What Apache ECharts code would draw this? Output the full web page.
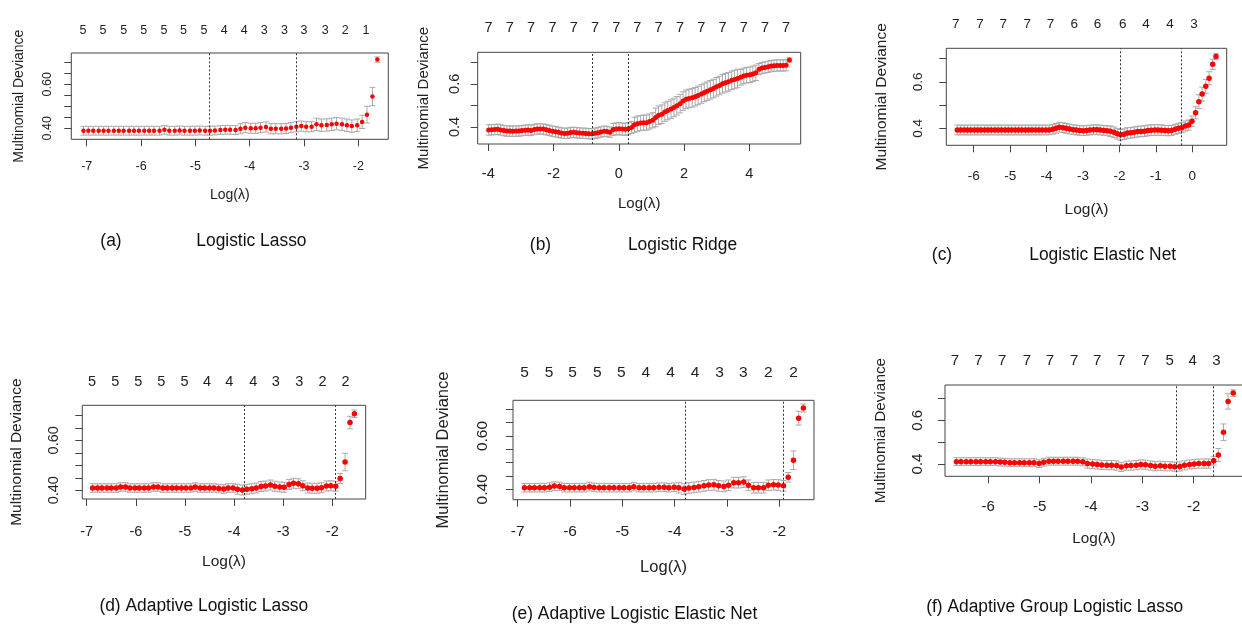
<!DOCTYPE html>
<html>
<head>
<meta charset="utf-8">
<script src="https://cdn.jsdelivr.net/npm/echarts@6/dist/echarts.min.js"></script>
<style>
  html, body { margin: 0; padding: 0; background: #fff; }
  #container { width: 1242px; height: 624px; }
</style>
</head>
<body>
<div id="container"></div>
<script type="text/javascript">
// ---- (a) Logistic Lasso ----
var xA = [-7.06,-6.97,-6.88,-6.78,-6.69,-6.60,-6.50,-6.41,-6.32,-6.22,
          -6.13,-6.04,-5.94,-5.85,-5.76,-5.66,-5.57,-5.48,-5.38,-5.29,
          -5.20,-5.10,-5.01,-4.92,-4.82,-4.73,-4.64,-4.54,-4.45,-4.36,
          -4.26,-4.17,-4.08,-3.98,-3.89,-3.80,-3.70,-3.61,-3.52,-3.42,
          -3.33,-3.24,-3.14,-3.05,-2.96,-2.86,-2.77,-2.68,-2.58,-2.49,
          -2.40,-2.30,-2.21,-2.12,-2.02,-1.93,-1.84,-1.74,-1.65];
var yA = [0.389,0.389,0.389,0.389,0.389,0.389,0.389,0.389,0.389,0.389,
          0.389,0.389,0.389,0.389,0.389,0.389,0.393,0.389,0.389,0.390,
          0.389,0.389,0.389,0.390,0.389,0.389,0.390,0.392,0.393,0.393,
          0.392,0.398,0.403,0.400,0.400,0.403,0.406,0.398,0.398,0.398,
          0.399,0.403,0.407,0.410,0.407,0.407,0.418,0.414,0.415,0.418,
          0.421,0.418,0.414,0.410,0.414,0.429,0.462,0.544,0.712];
var seA = [0.020,0.020,0.020,0.020,0.020,0.020,0.020,0.020,0.020,0.020,
           0.020,0.020,0.020,0.020,0.020,0.020,0.020,0.020,0.020,0.020,
           0.020,0.020,0.020,0.020,0.020,0.020,0.020,0.020,0.020,0.020,
           0.020,0.023,0.023,0.023,0.023,0.023,0.023,0.023,0.023,0.023,
           0.023,0.023,0.023,0.023,0.023,0.023,0.028,0.028,0.028,0.028,
           0.028,0.028,0.028,0.028,0.028,0.030,0.038,0.042,0.012];
var cutA = [-4.74, -3.15];
var topPosA = [-7.07,-6.70,-6.32,-5.95,-5.58,-5.22,-4.84,-4.47,-4.10,-3.73,-3.36,-3.00,-2.61,-2.24,-1.86];
var topNA = [5,5,5,5,5,5,5,4,4,3,3,3,3,2,1];
var xTicksA = [-7,-6,-5,-4,-3,-2];
var yTicksA = [0.40,0.45,0.50,0.55,0.60,0.65,0.70];
var yLabelsA = [0.40,0.60];

// ---- (b) Logistic Ridge ----
var xB = [-3.99,-3.90,-3.80,-3.71,-3.62,-3.52,-3.43,-3.34,-3.25,-3.15,
          -3.06,-2.97,-2.87,-2.78,-2.69,-2.59,-2.50,-2.41,-2.31,-2.22,
          -2.13,-2.03,-1.94,-1.85,-1.76,-1.66,-1.57,-1.48,-1.38,-1.29,
          -1.20,-1.10,-1.01,-0.92,-0.82,-0.73,-0.64,-0.55,-0.45,-0.36,
          -0.27,-0.17,-0.08,0.01,0.11,0.20,0.29,0.39,0.48,0.57,
          0.67,0.76,0.85,0.94,1.04,1.13,1.22,1.32,1.41,1.50,
          1.60,1.69,1.78,1.88,1.97,2.06,2.15,2.25,2.34,2.43,
          2.53,2.62,2.71,2.81,2.90,2.99,3.09,3.18,3.27,3.36,
          3.46,3.55,3.64,3.74,3.83,3.92,4.02,4.11,4.20,4.30,
          4.39,4.48,4.58,4.67,4.76,4.85,4.95,5.04,5.13,5.23];
var yB = [0.386,0.387,0.388,0.389,0.386,0.383,0.381,0.381,0.380,0.381,
          0.381,0.383,0.385,0.386,0.384,0.388,0.391,0.391,0.390,0.387,
          0.384,0.380,0.378,0.375,0.372,0.370,0.371,0.374,0.375,0.373,
          0.372,0.371,0.370,0.369,0.368,0.371,0.373,0.377,0.380,0.379,
          0.376,0.388,0.391,0.392,0.390,0.389,0.392,0.398,0.410,0.415,
          0.418,0.420,0.420,0.425,0.431,0.444,0.454,0.459,0.469,0.476,
          0.483,0.490,0.498,0.508,0.520,0.528,0.532,0.535,0.540,0.546,
          0.553,0.560,0.566,0.572,0.578,0.586,0.592,0.600,0.605,0.609,
          0.616,0.620,0.625,0.630,0.636,0.640,0.642,0.646,0.651,0.668,
          0.673,0.676,0.679,0.682,0.684,0.685,0.685,0.685,0.686,0.710];
var seB = [0.024,0.024,0.024,0.024,0.024,0.024,0.024,0.024,0.024,0.024,
           0.024,0.024,0.024,0.024,0.024,0.024,0.024,0.024,0.024,0.024,
           0.024,0.024,0.024,0.024,0.024,0.024,0.024,0.024,0.024,0.024,
           0.024,0.024,0.024,0.024,0.024,0.024,0.024,0.024,0.024,0.024,
           0.024,0.028,0.028,0.028,0.028,0.028,0.028,0.028,0.035,0.035,
           0.035,0.035,0.035,0.035,0.035,0.043,0.043,0.043,0.043,0.043,
           0.043,0.043,0.043,0.043,0.043,0.043,0.043,0.043,0.043,0.043,
           0.043,0.043,0.043,0.043,0.043,0.043,0.043,0.043,0.043,0.043,
           0.043,0.043,0.043,0.036,0.036,0.036,0.036,0.036,0.036,0.026,
           0.026,0.026,0.026,0.026,0.026,0.026,0.026,0.026,0.026,0.010];
var cutB = [-0.80, 0.30];
var topPosB = [-3.99,-3.34,-2.69,-2.03,-1.38,-0.73,-0.08,0.57,1.22,1.88,2.53,3.18,3.83,4.48,5.13];
var topNB = [7,7,7,7,7,7,7,7,7,7,7,7,7,7,7];
var xTicksB = [-4,-2,0,2,4];
var yTicksB = [0.4,0.5,0.6,0.7];
var yLabelsB = [0.4,0.6];

// ---- (c) Logistic Elastic Net ----
var xC = [-6.45,-6.36,-6.26,-6.17,-6.08,-5.98,-5.89,-5.80,-5.70,-5.61,
          -5.52,-5.42,-5.33,-5.24,-5.14,-5.05,-4.96,-4.86,-4.77,-4.68,
          -4.58,-4.49,-4.40,-4.30,-4.21,-4.12,-4.02,-3.93,-3.83,-3.74,
          -3.65,-3.55,-3.46,-3.37,-3.27,-3.18,-3.09,-2.99,-2.90,-2.81,
          -2.71,-2.62,-2.53,-2.43,-2.34,-2.25,-2.15,-2.06,-1.97,-1.87,
          -1.78,-1.69,-1.59,-1.50,-1.41,-1.31,-1.22,-1.13,-1.03,-0.94,
          -0.85,-0.75,-0.66,-0.57,-0.47,-0.38,-0.29,-0.19,-0.10,-0.01,
          0.09,0.18,0.27,0.37,0.46,0.56,0.65];
var yC = [0.393,0.393,0.393,0.393,0.393,0.393,0.393,0.393,0.393,0.393,
          0.393,0.393,0.393,0.393,0.393,0.393,0.393,0.393,0.393,0.393,
          0.393,0.393,0.393,0.393,0.393,0.393,0.393,0.393,0.396,0.400,
          0.405,0.403,0.400,0.397,0.394,0.393,0.391,0.390,0.391,0.393,
          0.394,0.394,0.393,0.391,0.390,0.388,0.383,0.377,0.372,0.375,
          0.380,0.381,0.383,0.386,0.387,0.388,0.391,0.392,0.393,0.393,
          0.392,0.391,0.390,0.391,0.396,0.400,0.403,0.410,0.414,0.431,
          0.467,0.515,0.548,0.581,0.616,0.676,0.710];
var seC = [0.021,0.021,0.021,0.021,0.021,0.021,0.021,0.021,0.021,0.021,
           0.021,0.021,0.021,0.021,0.021,0.021,0.021,0.021,0.021,0.021,
           0.021,0.021,0.021,0.021,0.021,0.021,0.021,0.021,0.021,0.021,
           0.021,0.021,0.021,0.021,0.021,0.021,0.021,0.021,0.021,0.021,
           0.021,0.021,0.021,0.021,0.021,0.023,0.023,0.023,0.023,0.023,
           0.023,0.023,0.023,0.023,0.023,0.023,0.023,0.023,0.023,0.023,
           0.023,0.022,0.022,0.022,0.022,0.022,0.022,0.022,0.022,0.022,
           0.026,0.030,0.030,0.030,0.028,0.022,0.012];
var cutC = [-1.98, -0.30];
var topPosC = [-6.49,-5.83,-5.19,-4.53,-3.89,-3.24,-2.60,-1.91,-1.27,-0.61,0.05];
var topNC = [7,7,7,7,7,6,6,6,4,4,3];
var xTicksC = [-6,-5,-4,-3,-2,-1,0];
var yTicksC = [0.4,0.5,0.6,0.7];
var yLabelsC = [0.4,0.6];

// ---- (d) Adaptive Logistic Lasso ----
var xD = [-6.88,-6.78,-6.69,-6.59,-6.50,-6.40,-6.31,-6.21,-6.12,-6.02,
          -5.93,-5.83,-5.74,-5.64,-5.55,-5.45,-5.36,-5.26,-5.17,-5.07,
          -4.98,-4.88,-4.79,-4.69,-4.60,-4.50,-4.41,-4.31,-4.21,-4.12,
          -4.02,-3.93,-3.83,-3.74,-3.64,-3.55,-3.45,-3.36,-3.26,-3.17,
          -3.07,-2.98,-2.88,-2.79,-2.69,-2.60,-2.50,-2.41,-2.31,-2.22,
          -2.12,-2.03,-1.93,-1.84,-1.74,-1.64,-1.55];
var yD = [0.409,0.409,0.409,0.409,0.409,0.409,0.413,0.413,0.409,0.409,
          0.409,0.409,0.409,0.413,0.413,0.409,0.409,0.409,0.409,0.409,
          0.409,0.409,0.413,0.409,0.409,0.409,0.409,0.407,0.405,0.409,
          0.409,0.404,0.401,0.404,0.406,0.409,0.415,0.417,0.421,0.416,
          0.413,0.412,0.423,0.428,0.426,0.418,0.409,0.408,0.408,0.410,
          0.417,0.418,0.416,0.447,0.513,0.671,0.706];
var seD = [0.017,0.017,0.017,0.017,0.017,0.017,0.017,0.017,0.017,0.017,
           0.017,0.017,0.017,0.017,0.017,0.017,0.017,0.017,0.017,0.017,
           0.017,0.017,0.017,0.017,0.017,0.017,0.017,0.017,0.017,0.017,
           0.017,0.020,0.020,0.020,0.020,0.020,0.020,0.020,0.020,0.020,
           0.020,0.020,0.020,0.020,0.020,0.020,0.020,0.020,0.020,0.020,
           0.020,0.020,0.020,0.020,0.035,0.025,0.015];
var cutD = [-3.80, -1.94];
var topPosD = [-6.89,-6.42,-5.95,-5.48,-5.01,-4.55,-4.10,-3.61,-3.15,-2.67,-2.20,-1.73];
var topND = [5,5,5,5,5,4,4,4,3,3,2,2];
var xTicksD = [-7,-6,-5,-4,-3,-2];
var yTicksD = [0.40,0.45,0.50,0.55,0.60,0.65,0.70];
var yLabelsD = [0.40,0.60];

// ---- (e) Adaptive Logistic Elastic Net ----
var xE = [-6.87,-6.77,-6.68,-6.58,-6.49,-6.39,-6.30,-6.20,-6.11,-6.01,
          -5.92,-5.82,-5.73,-5.63,-5.54,-5.44,-5.35,-5.25,-5.16,-5.06,
          -4.97,-4.87,-4.78,-4.68,-4.59,-4.49,-4.40,-4.30,-4.20,-4.11,
          -4.01,-3.92,-3.82,-3.73,-3.63,-3.54,-3.44,-3.35,-3.25,-3.16,
          -3.06,-2.97,-2.87,-2.78,-2.68,-2.59,-2.49,-2.40,-2.30,-2.21,
          -2.11,-2.02,-1.92,-1.83,-1.73,-1.63,-1.54];
var yE = [0.406,0.406,0.406,0.406,0.406,0.408,0.412,0.411,0.406,0.406,
          0.406,0.406,0.406,0.410,0.407,0.406,0.406,0.406,0.406,0.406,
          0.406,0.406,0.410,0.406,0.406,0.406,0.406,0.408,0.408,0.406,
          0.408,0.406,0.401,0.405,0.407,0.410,0.413,0.416,0.417,0.413,
          0.411,0.415,0.425,0.425,0.427,0.415,0.406,0.406,0.406,0.415,
          0.417,0.416,0.413,0.445,0.509,0.667,0.705];
var seE = [0.016,0.016,0.016,0.016,0.016,0.016,0.016,0.016,0.016,0.016,
           0.016,0.016,0.016,0.016,0.016,0.016,0.016,0.016,0.016,0.016,
           0.016,0.016,0.016,0.016,0.016,0.016,0.016,0.016,0.016,0.016,
           0.016,0.020,0.020,0.020,0.020,0.020,0.020,0.020,0.020,0.020,
           0.020,0.020,0.020,0.020,0.020,0.020,0.020,0.020,0.020,0.020,
           0.020,0.020,0.020,0.018,0.035,0.026,0.015];
var cutE = [-3.80, -1.93];
var topPosE = [-6.87,-6.40,-5.95,-5.48,-5.02,-4.55,-4.08,-3.61,-3.14,-2.69,-2.21,-1.73];
var topNE = [5,5,5,5,5,4,4,4,3,3,2,2];
var xTicksE = [-7,-6,-5,-4,-3,-2];
var yTicksE = [0.40,0.45,0.50,0.55,0.60,0.65,0.70];
var yLabelsE = [0.40,0.60];

// ---- (f) Adaptive Group Logistic Lasso ----
var xF = [-6.62,-6.53,-6.43,-6.34,-6.24,-6.15,-6.05,-5.96,-5.86,-5.77,
          -5.68,-5.58,-5.49,-5.39,-5.30,-5.20,-5.11,-5.01,-4.92,-4.82,
          -4.73,-4.64,-4.54,-4.45,-4.35,-4.26,-4.16,-4.07,-3.97,-3.88,
          -3.79,-3.69,-3.60,-3.50,-3.41,-3.31,-3.22,-3.12,-3.03,-2.94,
          -2.84,-2.75,-2.65,-2.56,-2.46,-2.37,-2.27,-2.18,-2.08,-1.99,
          -1.90,-1.80,-1.71,-1.61,-1.52,-1.42,-1.33,-1.23];
var yF = [0.411,0.411,0.411,0.411,0.411,0.411,0.411,0.411,0.411,0.409,
          0.408,0.406,0.406,0.406,0.406,0.406,0.406,0.402,0.408,0.413,
          0.413,0.413,0.413,0.413,0.413,0.413,0.410,0.402,0.400,0.398,
          0.396,0.395,0.395,0.393,0.387,0.392,0.393,0.395,0.398,0.397,
          0.393,0.390,0.392,0.390,0.390,0.388,0.389,0.394,0.398,0.400,
          0.402,0.402,0.402,0.415,0.441,0.545,0.686,0.724];
var seF = [0.018,0.018,0.018,0.018,0.018,0.018,0.018,0.018,0.018,0.018,
           0.018,0.018,0.018,0.018,0.018,0.018,0.018,0.018,0.018,0.018,
           0.018,0.018,0.018,0.018,0.018,0.018,0.018,0.021,0.021,0.021,
           0.021,0.021,0.021,0.021,0.021,0.021,0.021,0.021,0.021,0.021,
           0.021,0.021,0.021,0.021,0.021,0.021,0.021,0.021,0.021,0.021,
           0.021,0.021,0.021,0.020,0.030,0.038,0.035,0.015];
var cutF = [-2.34, -1.62];
var topPosF = [-6.65,-6.19,-5.73,-5.25,-4.80,-4.33,-3.88,-3.41,-2.94,-2.47,-2.02,-1.56];
var topNF = [7,7,7,7,7,7,7,7,7,5,4,3];
var xTicksF = [-6,-5,-4,-3,-2];
var yTicksF = [0.4,0.5,0.6,0.7];
var yLabelsF = [0.4,0.6];

var captions = [
    {text: '(a)', x: 111, y: 241}, {text: 'Logistic Lasso', x: 251.4, y: 241},
    {text: '(b)', x: 540.5, y: 245}, {text: 'Logistic Ridge', x: 682.5, y: 245},
    {text: '(c)', x: 942, y: 254.5}, {text: 'Logistic Elastic Net', x: 1102.7, y: 254.5},
    {text: '(d) Adaptive Logistic Lasso', x: 203.8, y: 606.3},
    {text: '(e) Adaptive Logistic Elastic Net', x: 634.5, y: 613.7},
    {text: '(f) Adaptive Group Logistic Lasso', x: 1054.7, y: 607}
];

var panels = [
    {x: xA, y: yA, se: seA, cut: cutA, topPos: topPosA, topN: topNA, xTicks: xTicksA, yTicks: yTicksA, yLabels: yLabelsA},
    {x: xB, y: yB, se: seB, cut: cutB, topPos: topPosB, topN: topNB, xTicks: xTicksB, yTicks: yTicksB, yLabels: yLabelsB},
    {x: xC, y: yC, se: seC, cut: cutC, topPos: topPosC, topN: topNC, xTicks: xTicksC, yTicks: yTicksC, yLabels: yLabelsC},
    {x: xD, y: yD, se: seD, cut: cutD, topPos: topPosD, topN: topND, xTicks: xTicksD, yTicks: yTicksD, yLabels: yLabelsD},
    {x: xE, y: yE, se: seE, cut: cutE, topPos: topPosE, topN: topNE, xTicks: xTicksE, yTicks: yTicksE, yLabels: yLabelsE},
    {x: xF, y: yF, se: seF, cut: cutF, topPos: topPosF, topN: topNF, xTicks: xTicksF, yTicks: yTicksF, yLabels: yLabelsF}
];

// layout of each panel (pixel box, axis ranges, font sizes, gaps)
var layout = [
    {box: [71.3, 53, 317, 86.3], xr: [-7.284, -1.448], yr: [0.35, 0.742], dec: 2, fs: 12.5, lab: 14, yLM: 17, xLM: 21, topM: 15.5, xNG: 48.7, yNG: 45.3, dot: 4.5, cap: 3},
    {box: [477.7, 52.3, 323, 91.7], xr: [-4.325, 5.576], yr: [0.321, 0.746], dec: 1, fs: 14.5, lab: 15, yLM: 15.5, xLM: 22.3, topM: 16.9, xNG: 52.5, yNG: 46.5, dot: 5, cap: 3},
    {box: [946.3, 48.3, 280.4, 97], xr: [-6.752, 0.944], yr: [0.327, 0.745], dec: 1, fs: 13.5, lab: 15.5, yLM: 20.8, xLM: 24, topM: 17.4, xNG: 56, yNG: 56.5, dot: 5.5, cap: 3},
    {box: [82.3, 405.3, 283.4, 93.7], xr: [-7.09, -1.32], yr: [0.365, 0.74], dec: 2, fs: 14.5, lab: 15.5, yLM: 21, xLM: 25.5, topM: 15.9, xNG: 55, yNG: 57.9, dot: 5.5, cap: 3},
    {box: [513, 400.3, 301, 99.4], xr: [-7.09, -1.337], yr: [0.361, 0.734], dec: 2, fs: 15.5, lab: 16.5, yLM: 22, xLM: 24.3, topM: 19.2, xNG: 58.8, yNG: 61.5, dot: 5.5, cap: 3},
    {box: [945, 385, 298, 91.3], xr: [-6.843, -1.04], yr: [0.344, 0.761], dec: 1, fs: 15, lab: 15.3, yLM: 20, xLM: 22.9, topM: 16.2, xNG: 55, yNG: 56.4, dot: 5.5, cap: 3}
];

var FONT = "'Liberation Sans', Arial, sans-serif";
var INK = '#222';

function errBar(w) {
    return function (params, api) {
        var x = api.value(0), y = api.value(1), s = api.value(2);
        var hi = api.coord([x, y + s]), lo = api.coord([x, y - s]);
        var st = {stroke: '#aaaaaa', lineWidth: 1, fill: null};
        return {type: 'group', children: [
            {type: 'line', shape: {x1: hi[0], y1: hi[1], x2: lo[0], y2: lo[1]}, style: st},
            {type: 'line', shape: {x1: hi[0] - w, y1: hi[1], x2: hi[0] + w, y2: hi[1]}, style: st},
            {type: 'line', shape: {x1: lo[0] - w, y1: lo[1], x2: lo[0] + w, y2: lo[1]}, style: st}
        ]};
    };
}

function nearestLabel(p, v) {
    var best = 0;
    for (var i = 1; i < p.topPos.length; i++) {
        if (Math.abs(p.topPos[i] - v) < Math.abs(p.topPos[best] - v)) best = i;
    }
    return String(p.topN[best]);
}

var dom = document.getElementById('container');
var myChart = echarts.init(dom, null, {renderer: 'canvas'});
var option = {animation: false, backgroundColor: '#fff', grid: [], xAxis: [], yAxis: [], series: [], graphic: []};

panels.forEach(function (p, k) {
    var L = layout[k];
    var tickText = {fontFamily: FONT, fontSize: L.fs, color: INK};
    var nameText = {fontFamily: FONT, fontSize: L.lab, color: INK};
    option.grid.push({
        left: L.box[0], top: L.box[1], width: L.box[2], height: L.box[3],
        show: true, borderColor: '#444', borderWidth: 1, backgroundColor: 'transparent',
        containLabel: false, outerBoundsMode: 'none'
    });
    // bottom axis
    option.xAxis.push({
        type: 'value', gridIndex: k, position: 'bottom', min: L.xr[0], max: L.xr[1],
        name: 'Log(\u03bb)', nameLocation: 'middle', nameGap: L.xNG, nameTextStyle: nameText,
        axisLine: {show: false, onZero: false}, splitLine: {show: false},
        axisTick: {show: true, inside: false, length: 7, customValues: p.xTicks, lineStyle: {color: '#444'}},
        axisLabel: Object.assign({customValues: p.xTicks, margin: L.xLM,
            formatter: function (v) { return String(v); }}, tickText)
    });
    // top axis with number of non-zero coefficients
    option.xAxis.push({
        type: 'value', gridIndex: k, position: 'top', min: L.xr[0], max: L.xr[1],
        axisLine: {show: false, onZero: false}, splitLine: {show: false}, axisTick: {show: false},
        axisLabel: Object.assign({customValues: p.topPos, margin: L.topM,
            formatter: function (v) { return nearestLabel(p, v); }}, tickText)
    });
    option.yAxis.push({
        type: 'value', gridIndex: k, min: L.yr[0], max: L.yr[1],
        name: 'Multinomial Deviance', nameLocation: 'middle', nameGap: L.yNG, nameTextStyle: nameText,
        axisLine: {show: false, onZero: false}, splitLine: {show: false},
        axisTick: {show: true, inside: false, length: 7, customValues: p.yTicks, lineStyle: {color: '#444'}},
        axisLabel: Object.assign({customValues: p.yLabels, rotate: 90, margin: L.yLM,
            formatter: function (v) { return v.toFixed(L.dec); }}, tickText)
    });
    option.series.push({
        type: 'custom', xAxisIndex: 2 * k, yAxisIndex: k, silent: true, z: 2,
        renderItem: errBar(L.cap), encode: {x: 0, y: 1},
        data: p.x.map(function (v, i) { return [v, p.y[i], p.se[i]]; })
    });
    option.series.push({
        type: 'scatter', xAxisIndex: 2 * k, yAxisIndex: k, silent: true, z: 3,
        symbol: 'circle', symbolSize: L.dot, itemStyle: {color: '#ff0000', opacity: 1},
        data: p.x.map(function (v, i) { return [v, p.y[i]]; }),
        markLine: {
            silent: true, symbol: ['none', 'none'], label: {show: false},
            lineStyle: {color: '#333', type: [2, 2], width: 1},
            data: p.cut.map(function (c) { return {xAxis: c}; })
        }
    });
});

captions.forEach(function (c) {
    option.graphic.push({
        type: 'text', x: c.x, y: c.y, scaleY: 1.08, silent: true,
        style: {text: c.text, fontFamily: FONT, fontSize: 17.4, fill: '#111', align: 'center', verticalAlign: 'middle'}
    });
});

myChart.setOption(option, true);
</script>
</body>
</html>
